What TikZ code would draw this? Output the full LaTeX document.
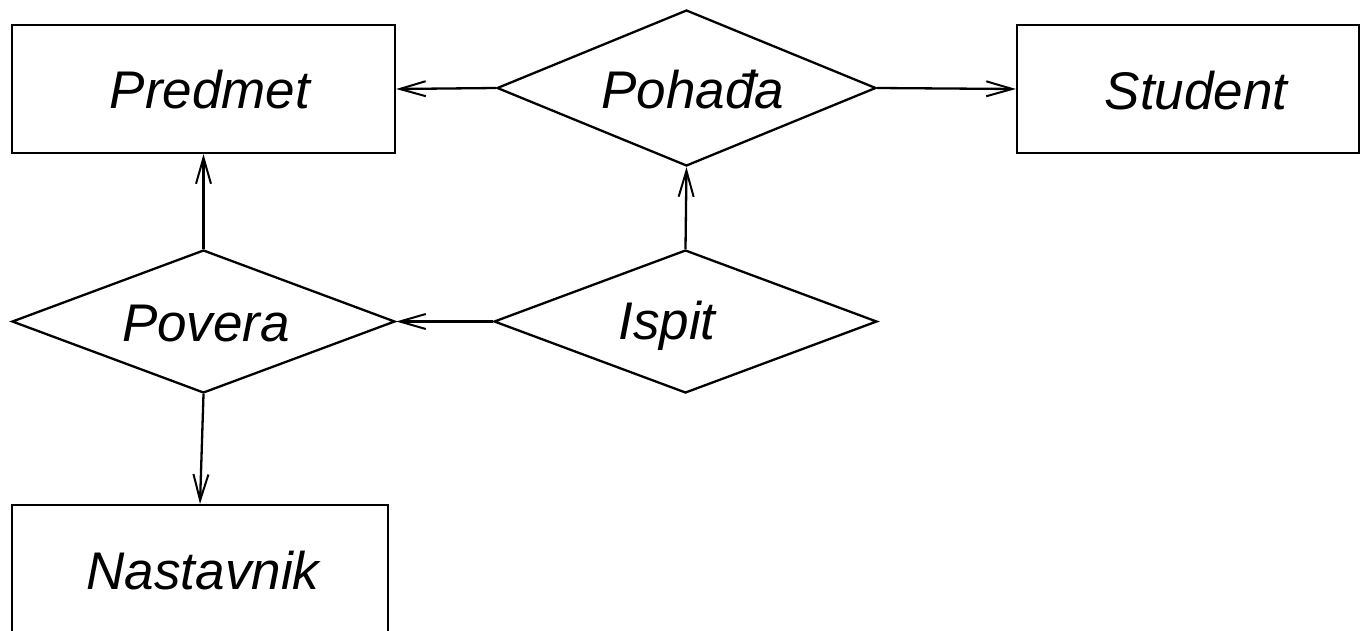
\documentclass[tikz,border=0pt]{standalone}
\usepackage{fontspec}
\setmainfont{Liberation Sans}
\usetikzlibrary{shapes.geometric, arrows.meta}

\begin{document}
\begin{tikzpicture}[x=1pt, y=-1pt, line width=2.3pt,
    entity/.style={draw, rectangle, inner sep=0pt, minimum width=383pt, minimum height=128pt},
    relation/.style={draw, diamond, inner sep=0pt, minimum width=379pt, minimum height=156pt},
    label/.style={inner sep=0pt, text height=37pt, text depth=0pt, font=\fontsize{53}{60}\selectfont\itshape},
    every edge/.style={draw, -{Straight Barb[length=26pt, width=15pt, line width=2pt]}}]
    \useasboundingbox (0, 0) rectangle (1360, 630);

    % entities
    \node[entity] (predmet) at (203.5, 89) {};
    \node[entity, minimum width=342pt] (student) at (1188, 89) {};
    \node[entity, minimum width=376pt, minimum height=132pt] (nastavnik) at (200, 571) {};

    % relations
    \node[relation] (pohadja) at (686.5, 88) {};
    \node[relation, minimum width=383pt, minimum height=143pt] (povera) at (203.5, 321.5) {};
    \node[relation, minimum width=383pt, minimum height=143pt] (ispit) at (685.5, 321.5) {};

    % texts
    \node[label] (predmet-txt) at (210, 90) {Predmet};
    \node[label] (student-txt) at (1196, 91) {Student};
    \node[label] (nastavnik-txt) at (203, 571) {Nastavnik};
    \node[label] (pohadja-txt) at (693, 90) {Pohađa};
    \node[label] (povera-txt) at (206, 323) {Povera};
    \node[label] (ispit-txt) at (667, 321) {Ispit};

    % connectors
    \draw (pohadja.west) edge (predmet.east);
    \draw (pohadja.east) edge (student.west);
    \draw (povera.north) edge (predmet.south);
    \draw (ispit.north) edge (pohadja.south);
    \draw (ispit.west) edge (povera.east);
    \draw (povera.south) edge (nastavnik.north);
\end{tikzpicture}
\end{document}
